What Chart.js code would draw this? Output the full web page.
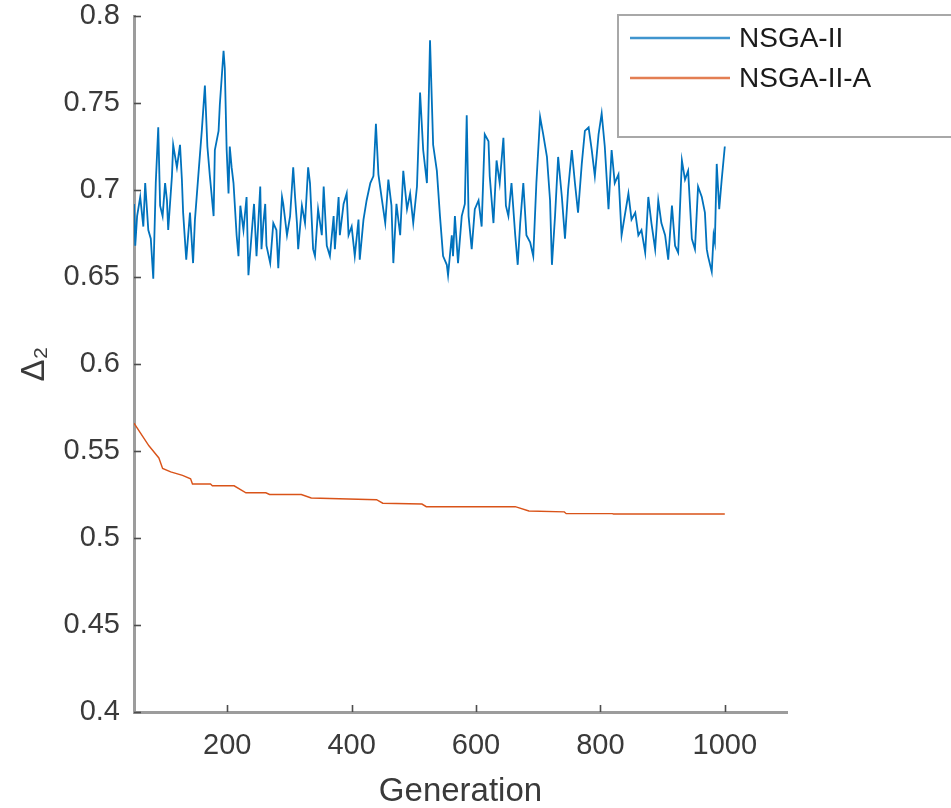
<!DOCTYPE html>
<html>
<head>
<meta charset="utf-8">
<script src="https://cdn.jsdelivr.net/npm/chart.js@4.4.1/dist/chart.umd.min.js"></script>
<style>
  html, body { margin: 0; padding: 0; background: #ffffff; }
  #wrap { width: 951px; height: 808px; }
</style>
</head>
<body>
<div id="wrap"><canvas id="c" width="951" height="808"></canvas></div>
<script>
// ---- data ----
const seriesNames = ['NSGA-II', 'NSGA-II-A'];

const nsgaGen = [50,52,55,60,65,68,73,77,81,85,89,92,96,100,103,105,111,113,119,124,127,129,134,140,145,148,154,159,164,168,172,178,180,186,188,194,196,199,202,204,207,210,215,218,221,226,231,234,239,243,247,253,255,258,261,263,269,274,279,282,288,290,296,301,306,309,312,314,320,325,330,333,338,341,346,352,355,360,365,371,373,379,381,387,392,395,400,405,411,413,419,424,430,435,439,443,448,454,459,464,467,472,478,483,489,494,499,505,507,510,515,521,526,531,537,542,547,553,555,561,563,566,571,577,582,585,588,593,598,604,609,614,620,622,628,633,638,644,648,652,657,663,667,671,676,681,687,692,697,703,708,714,719,722,727,732,738,743,748,754,759,764,770,775,781,786,791,797,802,807,813,818,823,829,834,839,845,850,856,861,866,872,877,882,888,893,898,904,909,915,920,925,931,936,941,947,952,957,963,968,971,973,979,982,984,987,991,995,1000];
const nsgaVal = [0.692,0.668,0.685,0.696,0.679,0.704,0.677,0.672,0.649,0.704,0.736,0.691,0.685,0.704,0.694,0.677,0.708,0.726,0.713,0.726,0.706,0.687,0.660,0.687,0.658,0.683,0.711,0.734,0.760,0.725,0.708,0.685,0.723,0.734,0.749,0.780,0.770,0.723,0.698,0.725,0.713,0.704,0.674,0.662,0.691,0.677,0.696,0.651,0.674,0.692,0.662,0.702,0.666,0.681,0.692,0.668,0.658,0.681,0.677,0.655,0.696,0.692,0.674,0.685,0.713,0.696,0.681,0.666,0.691,0.681,0.713,0.704,0.666,0.662,0.689,0.674,0.702,0.668,0.662,0.685,0.666,0.696,0.674,0.692,0.698,0.674,0.679,0.662,0.683,0.660,0.683,0.694,0.704,0.708,0.738,0.709,0.696,0.681,0.706,0.691,0.658,0.692,0.674,0.711,0.689,0.698,0.681,0.702,0.723,0.756,0.723,0.704,0.786,0.726,0.711,0.685,0.662,0.657,0.651,0.674,0.662,0.685,0.658,0.685,0.692,0.743,0.685,0.666,0.689,0.694,0.679,0.732,0.728,0.708,0.681,0.717,0.704,0.730,0.691,0.685,0.704,0.674,0.657,0.681,0.704,0.674,0.670,0.662,0.704,0.742,0.732,0.719,0.694,0.657,0.685,0.719,0.696,0.672,0.700,0.723,0.704,0.687,0.715,0.734,0.736,0.723,0.708,0.732,0.744,0.725,0.689,0.723,0.704,0.709,0.674,0.685,0.698,0.683,0.687,0.674,0.677,0.664,0.696,0.681,0.666,0.694,0.681,0.674,0.660,0.691,0.668,0.664,0.717,0.706,0.711,0.672,0.666,0.702,0.696,0.687,0.666,0.662,0.653,0.674,0.670,0.715,0.689,0.706,0.725];

const adaptGen = [50,74,90,96,109,128,141,144,173,176,211,230,262,268,319,335,440,450,513,520,663,685,742,745,819,821,1000];
const adaptVal = [0.566,0.553,0.546,0.540,0.538,0.536,0.534,0.531,0.531,0.530,0.530,0.526,0.526,0.525,0.525,0.523,0.522,0.520,0.5195,0.518,0.518,0.5155,0.515,0.514,0.514,0.5138,0.5138];

const xTicks = [200, 400, 600, 800, 1000];
const yTicks = [0.4, 0.45, 0.5, 0.55, 0.6, 0.65, 0.7, 0.75, 0.8];
const yTickLabels = ['0.4','0.45','0.5','0.55','0.6','0.65','0.7','0.75','0.8'];
const xRange = [50, 1100];
const yRange = [0.4, 0.8];
const xTitle = 'Generation';
const yTitle = 'Δ₂';

// ---- styles ----
const FONT = "'Liberation Sans', Arial, Helvetica, sans-serif";
const colBlue = '#0072BD';
const colOrange = '#D95319';
const axisCol = '#9c9c9c';
const tickCol = '#4d4d4d';
const textCol = '#3a3a3a';

const toPts = (xs, ys) => xs.map((x, i) => ({x: x, y: ys[i]}));

// inward tick marks
const innerTicks = {
  id: 'innerTicks',
  afterDatasetsDraw(chart) {
    const {ctx, chartArea, scales} = chart;
    ctx.save();
    ctx.strokeStyle = tickCol;
    ctx.lineWidth = 1.6;
    const L = 7;
    yTicks.forEach(v => {
      const y = Math.round(scales.y.getPixelForValue(v)) + 0.5;
      ctx.beginPath();
      ctx.moveTo(chartArea.left, y);
      ctx.lineTo(chartArea.left + L, y);
      ctx.stroke();
    });
    xTicks.forEach(v => {
      const x = Math.round(scales.x.getPixelForValue(v)) + 0.5;
      ctx.beginPath();
      ctx.moveTo(x, chartArea.bottom);
      ctx.lineTo(x, chartArea.bottom - L);
      ctx.stroke();
    });
    ctx.restore();
  }
};

// boxed legend in upper right (cut by the canvas edge, as in the reference)
const boxLegend = {
  id: 'boxLegend',
  afterDraw(chart) {
    const {ctx, chartArea} = chart;
    const left = chartArea.right - 169;
    const top = chartArea.top - 1;
    const bottom = top + 122;
    ctx.save();
    ctx.fillStyle = '#ffffff';
    ctx.fillRect(left, top, chart.width - left + 10, bottom - top);
    ctx.strokeStyle = '#a8a8a8';
    ctx.lineWidth = 2;
    ctx.strokeRect(left, top, chart.width - left + 10, bottom - top);
    chart.data.datasets.forEach((ds, i) => {
      const y = top + 23 + i * 40;
      ctx.globalAlpha = 0.75;
      ctx.strokeStyle = ds.borderColor;
      ctx.lineWidth = 2.5;
      ctx.beginPath();
      ctx.moveTo(left + 12, y);
      ctx.lineTo(left + 112, y);
      ctx.stroke();
      ctx.globalAlpha = 1;
      ctx.fillStyle = '#1a1a1a';
      ctx.font = '28px ' + FONT;
      ctx.textBaseline = 'middle';
      ctx.textAlign = 'left';
      ctx.fillText(ds.label, left + 121, y + 1);
    });
    ctx.restore();
  }
};

new Chart(document.getElementById('c'), {
  type: 'line',
  data: {
    datasets: [
      { label: seriesNames[0], data: toPts(nsgaGen, nsgaVal), borderColor: colBlue, borderWidth: 1.8,
        pointRadius: 0, tension: 0, fill: false },
      { label: seriesNames[1], data: toPts(adaptGen, adaptVal), borderColor: colOrange, borderWidth: 1.4,
        pointRadius: 0, tension: 0, fill: false }
    ]
  },
  options: {
    responsive: false,
    animation: false,
    devicePixelRatio: 1,
    layout: { padding: { left: 0, right: 164, top: 16, bottom: 0 } },
    plugins: { legend: { display: false }, tooltip: { enabled: false } },
    scales: {
      x: {
        type: 'linear',
        min: xRange[0], max: xRange[1],
        afterBuildTicks: s => { s.ticks = xTicks.map(v => ({value: v})); },
        afterFit: s => { s.height = 96; s.paddingLeft = 0; s.paddingRight = 0; },
        grid: { display: false, drawTicks: false },
        border: { display: true, color: axisCol, width: 3 },
        ticks: { color: textCol, font: { family: FONT, size: 29 }, padding: 17, maxRotation: 0,
                 callback: v => String(v) },
        title: { display: true, text: xTitle, color: textCol,
                 font: { family: FONT, size: 33, lineHeight: 1 }, padding: { top: 0, bottom: 0 } }
      },
      y: {
        type: 'linear',
        min: yRange[0], max: yRange[1],
        afterBuildTicks: s => { s.ticks = yTicks.map(v => ({value: v})); },
        afterFit: s => { s.width = 134; s.paddingTop = 0; s.paddingBottom = 0; },
        grid: { display: false, drawTicks: false },
        border: { display: true, color: axisCol, width: 3 },
        ticks: { color: textCol, font: { family: FONT, size: 29 }, padding: 14,
                 callback: v => { const i = yTicks.findIndex(t => Math.abs(t - v) < 1e-9); return i >= 0 ? yTickLabels[i] : ''; } },
        title: { display: true, text: yTitle, color: textCol,
                 font: { family: FONT, size: 33, lineHeight: 1.2 }, padding: { top: 15, bottom: 0 } }
      }
    }
  },
  plugins: [innerTicks, boxLegend]
});
</script>
</body>
</html>
